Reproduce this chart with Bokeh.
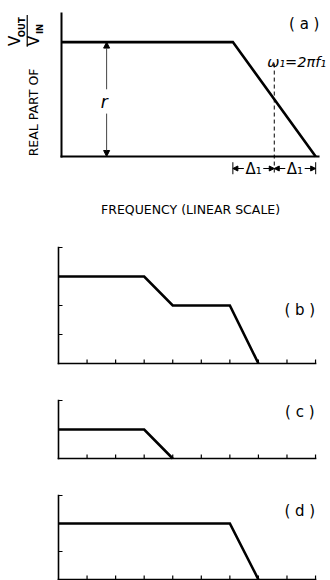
from bokeh.plotting import figure
from bokeh.layouts import column
from bokeh.models import Range1d, Label, Arrow, NormalHead
from bokeh.embed import file_html
from bokeh.resources import INLINE

FONT = "DejaVu Sans"
W = 330

# Frequency axis (linear scale, arbitrary units) shared by all responses
FREQ_MAX = 9
freq_ticks = [1, 2, 3, 4, 5, 6, 7, 8, 9]

# (a) low-pass response: flat at r, then a linear roll-off of width 2*Delta_1
a_freq = [0, 6.0, 8.9]
a_resp = [4, 4, 0]
a_ymax = 5
a_r = a_resp[0]
a_delta = (a_freq[2] - a_freq[1]) / 2
a_f1 = a_freq[1] + a_delta          # omega_1 = 2*pi*f1, centre of the roll-off

# (b) two-step response
b_freq = [0, 3, 4, 6, 7]
b_resp = [3, 3, 2, 2, 0]
b_ymax = 4
b_yticks = [1, 2, 3, 4]

# (c) single small step
c_freq = [0, 3, 4]
c_resp = [1, 1, 0]
c_ymax = 2
c_yticks = [1, 2]

# (d) wide pass band
d_freq = [0, 6, 7]
d_resp = [2, 2, 0]
d_ymax = 3
d_yticks = [1, 2, 3]


def make_panel(height, x0, y0, ux, uy):
    """Panel whose origin (0, 0) sits x0 px from the left and y0 px from the top,
    with ux / uy pixels per unit. Axes are drawn as glyphs so nothing is clipped."""
    p = figure(width=W, height=height,
               x_range=Range1d(-x0 / ux, (W - x0) / ux),
               y_range=Range1d((y0 - height) / uy, y0 / uy),
               output_backend="svg", toolbar_location=None,
               min_border=0)
    p.axis.visible = False
    p.grid.visible = False
    p.outline_line_color = None
    p.background_fill_color = "white"
    p.border_fill_color = "white"
    return p


def axes(p, ymax, ux, uy, xticks=(), yticks=(), width=1.6, tick_px=4):
    p.segment(x0=[0, 0], y0=[0, 0], x1=[FREQ_MAX, 0], y1=[0, ymax],
              line_color="black", line_width=width, line_cap="square")
    if xticks:
        p.segment(x0=list(xticks), y0=[0] * len(xticks), x1=list(xticks),
                  y1=[tick_px / uy] * len(xticks), line_color="black", line_width=1.2)
    if yticks:
        p.segment(x0=[0] * len(yticks), y0=list(yticks), x1=[tick_px / ux] * len(yticks),
                  y1=list(yticks), line_color="black", line_width=1.2)


def response(p, xs, ys):
    p.line(xs, ys, line_color="black", line_width=2.6, line_join="miter")


def label(p, text, x, y, size, align="center", style="normal", angle=0.0):
    p.add_layout(Label(x=x, y=y, text=text, text_font=FONT, text_font_size=size,
                       text_font_style=style, text_align=align, text_baseline="middle",
                       angle=angle, text_color="black"))


# ---------------- (a) ----------------
UXA, UYA = 28.56, 28.6
pa = make_panel(225, 61, 156, UXA, UYA)
axes(pa, a_ymax, UXA, UYA, width=2)
response(pa, a_freq, a_resp)

# omega_1 marker
pa.add_layout(Arrow(x_start=a_f1, y_start=3.25, x_end=a_f1, y_end=-0.6, end=None,
                    line_color="black", line_width=1, line_dash="4 3"))
label(pa, "ω₁=2πf₁", 7.2, 3.3, "14.5px", align="left", style="italic")

# Delta_1 dimension marks below the axis
dim_y = -0.42
mid1 = (a_freq[1] + a_f1) / 2
mid2 = (a_f1 + a_freq[2]) / 2
gap = 0.34
for xs, xe in [(mid1 - gap, a_freq[1]), (mid1 + gap, a_f1),
               (mid2 - gap, a_f1), (mid2 + gap, a_freq[2])]:
    pa.add_layout(Arrow(x_start=xs, y_start=dim_y, x_end=xe, y_end=dim_y,
                        end=NormalHead(size=5, fill_color="black", line_color="black"),
                        line_color="black", line_width=1))
pa.segment(x0=[a_freq[1], a_freq[2]], y0=[-0.2, -0.2], x1=[a_freq[1], a_freq[2]],
           y1=[-0.62, -0.62], line_color="black", line_width=1)
label(pa, "Δ₁", mid1, dim_y, "15px")
label(pa, "Δ₁", mid2, dim_y, "15px")

# r: height of the flat part
r_x = 1.58
pa.add_layout(Arrow(x_start=r_x, y_start=2.35, x_end=r_x, y_end=a_r,
                    end=NormalHead(size=6, fill_color="black", line_color="black"),
                    line_color="#444444", line_width=1))
pa.add_layout(Arrow(x_start=r_x, y_start=1.5, x_end=r_x, y_end=0,
                    end=NormalHead(size=6, fill_color="black", line_color="black"),
                    line_color="#444444", line_width=1))
label(pa, "r", 1.5, 1.92, "17px", style="italic")

# vertical axis title: REAL PART OF  V_OUT / V_IN
rot = 1.5708
label(pa, "REAL PART OF", -0.98, 1.54, "12.5px", angle=rot)
label(pa, "V", -1.62, 4.04, "15px", angle=rot)
label(pa, "OUT", -1.38, 4.52, "8.5px", style="bold", angle=rot)
pa.segment(x0=[-1.2], y0=[3.84], x1=[-1.2], y1=[4.95], line_color="black", line_width=1.2)
label(pa, "V", -0.96, 4.04, "15px", angle=rot)
label(pa, "IN", -0.74, 4.46, "8.5px", style="bold", angle=rot)

label(pa, "FREQUENCY (LINEAR SCALE)", 4.52, -1.85, "12.5px")
label(pa, "( a )", 8.5, 4.62, "15px")

# ---------------- (b) ----------------
UX, UY = 28.56, 29
pb = make_panel(145, 58, 138, UX, UY)
axes(pb, b_ymax, UX, UY, freq_ticks, b_yticks)
response(pb, b_freq, b_resp)
label(pb, "( b )", 8.45, 1.86, "15px")

# ---------------- (c) ----------------
pc = make_panel(95, 58, 88, UX, UY)
axes(pc, c_ymax, UX, UY, freq_ticks, c_yticks)
response(pc, c_freq, c_resp)
label(pc, "( c )", 8.45, 1.62, "15px")

# ---------------- (d) ----------------
UYD = 28
pd = make_panel(115, 58, 114, UX, UYD)
axes(pd, d_ymax, UX, UYD, freq_ticks, d_yticks)
response(pd, d_freq, d_resp)
label(pd, "( d )", 8.45, 2.46, "15px")

layout = column(pa, pb, pc, pd, spacing=0)

with open("out.html", "w") as f:
    f.write(file_html(layout, INLINE))
